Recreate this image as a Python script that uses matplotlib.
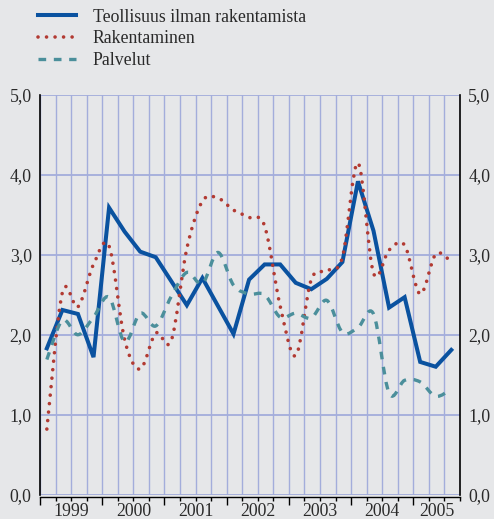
import numpy as np
import pandas as pd
import matplotlib
matplotlib.use("Agg")
import matplotlib.pyplot as plt
from matplotlib.path import Path
from matplotlib.patches import PathPatch
from matplotlib.lines import Line2D
from matplotlib.ticker import MultipleLocator, FixedLocator, FuncFormatter

# quarterly series, 1999Q1 - 2005Q3
quarters = pd.period_range("1999Q1", "2005Q3", freq="Q")
industry = [1.83, 2.31, 2.26, 1.72, 3.59, 3.29, 3.04, 2.97, 2.67, 2.37, 2.71, 2.36,
            2.01, 2.69, 2.88, 2.88, 2.65, 2.57, 2.70, 2.91, 3.92, 3.30, 2.34, 2.47,
            1.66, 1.60, 1.81]
construction = [0.82, 2.53, 2.35, 2.88, 3.11, 1.94, 1.57, 2.02, 1.93, 3.08, 3.67, 3.71,
                3.56, 3.47, 3.36, 2.36, 1.74, 2.69, 2.80, 2.97, 4.15, 2.77, 3.06, 3.12,
                2.51, 3.01, 2.91]
services = [1.69, 2.18, 2.00, 2.22, 2.47, 1.91, 2.27, 2.11, 2.48, 2.78, 2.64, 3.03,
            2.62, 2.51, 2.50, 2.22, 2.27, 2.21, 2.43, 2.03, 2.09, 2.26, 1.27, 1.43,
            1.41, 1.23, 1.32]
years = [1999, 2000, 2001, 2002, 2003, 2004, 2005]
labels = ["Teollisuus ilman rakentamista", "Rakentaminen", "Palvelut"]

blue = "#0a52a0"
red = "#b23a32"
teal = "#4b8f9b"
bg = "#e6e7e9"
grid_col = "#a3addb"
txt = "#2a2a2a"
fs = 12.8

plt.rcParams["font.family"] = ["Liberation Serif", "DejaVu Serif"]

x = np.asarray(quarters.year + (quarters.quarter - 1) / 4 + 0.11, dtype=float)


def smooth_path(xs, ys):
    # smoothed line like the spreadsheet one: cubic bezier through the points
    pts = np.column_stack([xs, ys])
    ext = np.vstack([pts[0], pts, pts[-1]])
    verts = [pts[0]]
    codes = [Path.MOVETO]
    for i in range(len(pts) - 1):
        p0, p1, p2, p3 = ext[i], ext[i + 1], ext[i + 2], ext[i + 3]
        verts += [p1 + (p2 - p0) / 6, p2 - (p3 - p1) / 6, p2]
        codes += [Path.CURVE4] * 3
    return Path(verts, codes)


fig = plt.figure(figsize=(4.94, 5.19), dpi=100, facecolor=bg)
ax = fig.add_axes([40 / 494, 24.4 / 519, 420 / 494, 399.6 / 519], facecolor=bg)

dots = (0, (0.01, 2.35))
dashes = (0, (2.3, 2.3))

ax.plot(x, industry, color=blue, lw=2.9, solid_joinstyle="miter", zorder=3)
ax.add_patch(PathPatch(smooth_path(x, construction), fill=False, edgecolor=red,
                       lw=2.6, linestyle=dots, capstyle="round", zorder=4))
ax.add_patch(PathPatch(smooth_path(x, services), fill=False, edgecolor=teal,
                       lw=2.4, linestyle=dashes, capstyle="butt", zorder=5))

xmax = 2005.75
ax.set_xlim(1999, xmax)
ax.set_ylim(0, 5)

ax.xaxis.set_major_locator(FixedLocator(years))
ax.xaxis.set_minor_locator(MultipleLocator(0.25))
ax.yaxis.set_major_locator(MultipleLocator(1.0))
ax.yaxis.set_major_formatter(FuncFormatter(lambda v, p: f"{v:.1f}".replace(".", ",")))

ax.grid(which="both", axis="x", color=grid_col, lw=1.0, zorder=1)
ax.grid(which="major", axis="y", color=grid_col, lw=1.3, zorder=1)
ax.set_axisbelow(True)

for s in ["left", "right"]:
    ax.spines[s].set_color("black")
    ax.spines[s].set_linewidth(1.2)
ax.spines["top"].set_visible(False)
ax.spines["bottom"].set_color("black")
ax.spines["bottom"].set_linewidth(1.0)
ax.spines["bottom"].set_position(("outward", 2))

ax.tick_params(axis="x", which="major", length=6, width=1.0, color="black",
               direction="out", labelbottom=False)
ax.tick_params(axis="x", which="minor", length=3, width=1.0, color="black",
               direction="out")
ax.tick_params(axis="y", length=0, labelleft=True, labelright=True,
               labelsize=fs, labelcolor=txt, pad=6)

edges = years + [xmax]
for i, yr in enumerate(years):
    ax.text((edges[i] + edges[i + 1]) / 2, -0.043, str(yr), transform=ax.get_xaxis_transform(),
            ha="center", va="center", fontsize=fs, color=txt)

handles = [
    Line2D([], [], color=blue, lw=2.9),
    Line2D([], [], color=red, lw=2.6, linestyle=dots, dash_capstyle="round"),
    Line2D([], [], color=teal, lw=2.4, linestyle=dashes),
]
fig.legend(handles, labels, loc="upper left", bbox_to_anchor=(38 / 494, 1 - 8.5 / 519),
           frameon=False, fontsize=fs, handlelength=2.13, handletextpad=0.95,
           labelspacing=0.28, borderpad=0, borderaxespad=0, labelcolor=txt)

fig.savefig("out.png", dpi=100, facecolor=bg)
